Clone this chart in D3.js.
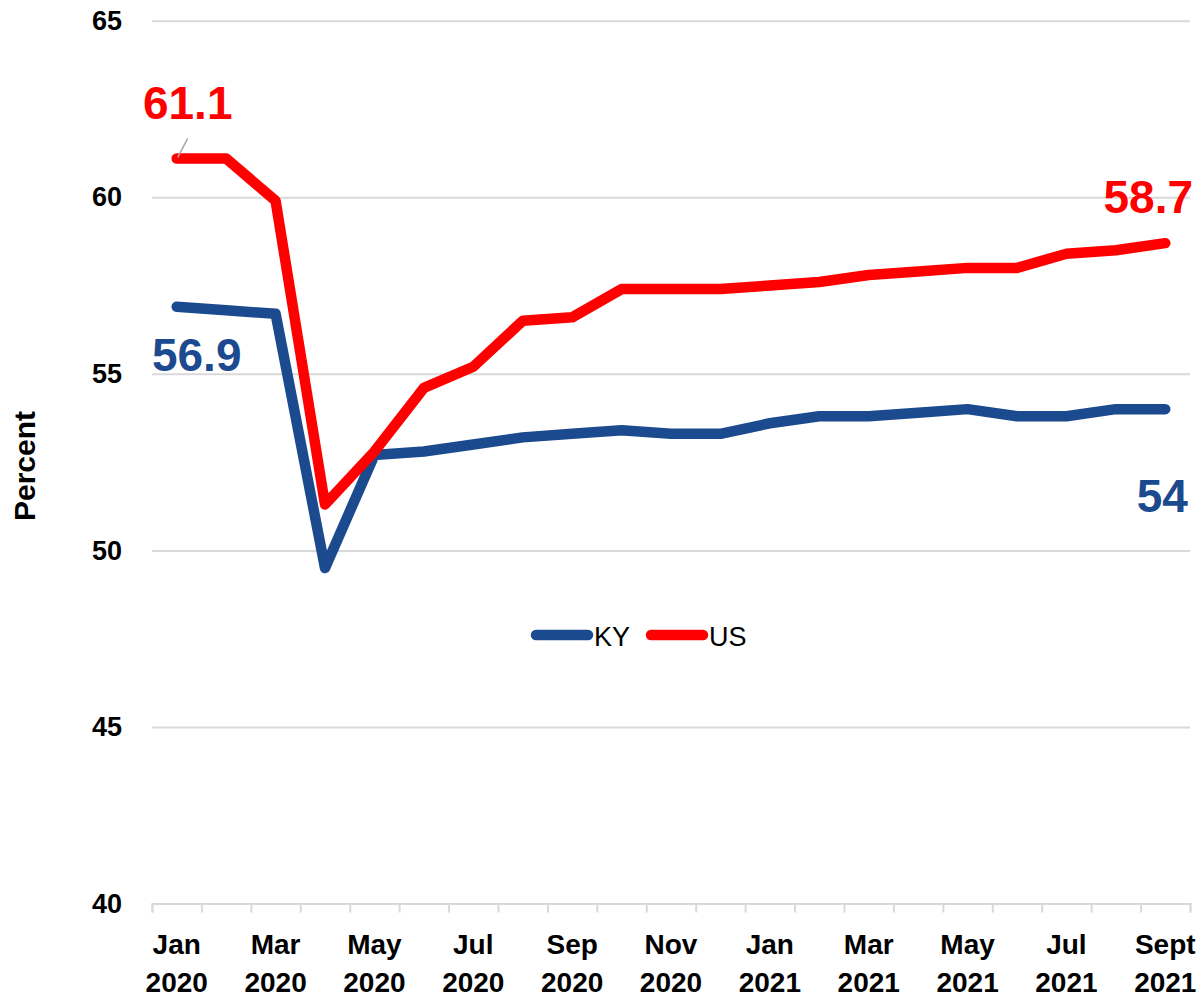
<!DOCTYPE html>
<html>
<head>
<meta charset="utf-8">
<script src="https://cdn.jsdelivr.net/npm/d3@7"></script>
<style>
  body { margin: 0; background: #fff; }
  svg { display: block; font-family: "Liberation Sans", Arial, sans-serif; }
</style>
</head>
<body>
<div class="chart"></div>
<script>
// months Jan 2020 .. Sep 2021
const months = ["Jan 2020", "Feb 2020", "Mar 2020", "Apr 2020", "May 2020", "Jun 2020",
  "Jul 2020", "Aug 2020", "Sep 2020", "Oct 2020", "Nov 2020", "Dec 2020",
  "Jan 2021", "Feb 2021", "Mar 2021", "Apr 2021", "May 2021", "Jun 2021",
  "Jul 2021", "Aug 2021", "Sep 2021"];
const kyValues = [56.9, 56.8, 56.7, 49.5, 52.7, 52.8, 53.0, 53.2, 53.3, 53.4, 53.3, 53.3,
  53.6, 53.8, 53.8, 53.9, 54.0, 53.8, 53.8, 54.0, 54.0];
const usValues = [61.1, 61.1, 59.9, 51.3, 52.8, 54.6, 55.2, 56.5, 56.6, 57.4, 57.4, 57.4,
  57.5, 57.6, 57.8, 57.9, 58.0, 58.0, 58.4, 58.5, 58.7];
const tickLabels = [["Jan", "2020"], ["Mar", "2020"], ["May", "2020"], ["Jul", "2020"],
  ["Sep", "2020"], ["Nov", "2020"], ["Jan", "2021"], ["Mar", "2021"], ["May", "2021"],
  ["Jul", "2021"], ["Sept", "2021"]];
const yTicks = [40, 45, 50, 55, 60, 65];

const series = [
  { name: "KY", values: kyValues, color: "#1b4a8f" },
  { name: "US", values: usValues, color: "#ff0000" },
];

const width = 1203, height = 999;
const plotLeft = 152, plotRight = 1190, plotTop = 20.7, plotBottom = 903.5;

const svg = d3.select(".chart").append("svg")
  .attr("width", width)
  .attr("height", height);

const xScale = d3.scaleLinear().domain([0, months.length]).range([plotLeft, plotRight]);
const yScale = d3.scaleLinear().domain([40, 65]).range([plotBottom, plotTop]);

// gridlines + y labels
const yAxis = d3.axisLeft(yScale)
  .tickValues(yTicks)
  .tickSize(-(plotRight - plotLeft))
  .tickPadding(30)
  .tickFormat(d3.format("d"));

const gy = svg.append("g")
  .attr("transform", `translate(${plotLeft},0)`)
  .call(yAxis);
gy.select(".domain").remove();
gy.selectAll(".tick line")
  .attr("stroke", "#d9d9d9")
  .attr("stroke-width", 2)
  .attr("display", (d) => (d === 40 ? "none" : null));
gy.selectAll(".tick text")
  .attr("font-size", 27)
  .attr("font-weight", "bold")
  .attr("font-family", "Liberation Sans, Arial, sans-serif")
  .attr("fill", "#000");

// x axis: tick marks between months
const xAxis = d3.axisBottom(xScale)
  .tickValues(d3.range(0, months.length + 1))
  .tickSize(9)
  .tickFormat("");
const gx = svg.append("g")
  .attr("transform", `translate(0,${plotBottom})`)
  .call(xAxis);
gx.select(".domain").attr("stroke", "#d9d9d9").attr("stroke-width", 2);
gx.selectAll(".tick line").attr("stroke", "#d9d9d9").attr("stroke-width", 2);

// month labels, every other month
const labelG = svg.append("g")
  .attr("font-size", 28)
  .attr("font-weight", "bold")
  .attr("text-anchor", "middle");
labelG.selectAll("text.m")
  .data(tickLabels)
  .join("text")
  .attr("class", "m")
  .attr("x", (d, i) => xScale(i * 2 + 0.5))
  .attr("y", 954)
  .text((d) => d[0]);
labelG.selectAll("text.yr")
  .data(tickLabels)
  .join("text")
  .attr("class", "yr")
  .attr("x", (d, i) => xScale(i * 2 + 0.5))
  .attr("y", 992)
  .text((d) => d[1]);

// y axis title
svg.append("text")
  .attr("transform", "translate(35,466) rotate(-90)")
  .attr("text-anchor", "middle")
  .attr("font-size", 30)
  .attr("font-weight", "bold")
  .text("Percent");

// lines
const line = d3.line()
  .x((d, i) => xScale(i + 0.5))
  .y((d) => yScale(d));

svg.selectAll("path.series")
  .data(series)
  .join("path")
  .attr("class", "series")
  .attr("fill", "none")
  .attr("stroke", (d) => d.color)
  .attr("stroke-width", 10.5)
  .attr("stroke-linejoin", "round")
  .attr("stroke-linecap", "round")
  .attr("d", (d) => line(d.values));

// data labels
const last = months.length - 1;
svg.append("line")
  .attr("x1", xScale(0.5) + 11)
  .attr("y1", yScale(usValues[0]) - 20)
  .attr("x2", xScale(0.5) + 1)
  .attr("y2", yScale(usValues[0]) - 1)
  .attr("stroke", "#a6a6a6")
  .attr("stroke-width", 1.5);

const dataLabels = [
  { text: usValues[0], x: xScale(0.5) + 11, y: 119, color: "#ff0000" },
  { text: kyValues[0], x: xScale(0.5) + 20, y: 371, color: "#1b4a8f" },
  { text: usValues[last], x: xScale(last + 0.5) - 17, y: 213, color: "#ff0000" },
  { text: kyValues[last], x: xScale(last + 0.5) - 3, y: 512, color: "#1b4a8f" },
];
svg.selectAll("text.dl")
  .data(dataLabels)
  .join("text")
  .attr("class", "dl")
  .attr("x", (d) => d.x)
  .attr("y", (d) => d.y)
  .attr("text-anchor", "middle")
  .attr("font-size", 46)
  .attr("font-weight", "bold")
  .attr("fill", (d) => d.color)
  .text((d) => d.text);

// legend
const legend = svg.append("g").attr("font-size", 27);
const legendX = [531, 646];
series.forEach((s, i) => {
  legend.append("line")
    .attr("x1", legendX[i] + 5)
    .attr("x2", legendX[i] + 57)
    .attr("y1", 635)
    .attr("y2", 635)
    .attr("stroke", s.color)
    .attr("stroke-width", 10.5)
    .attr("stroke-linecap", "round");
  legend.append("text")
    .attr("x", legendX[i] + 63)
    .attr("y", 646)
    .text(s.name);
});
</script>
</body>
</html>
